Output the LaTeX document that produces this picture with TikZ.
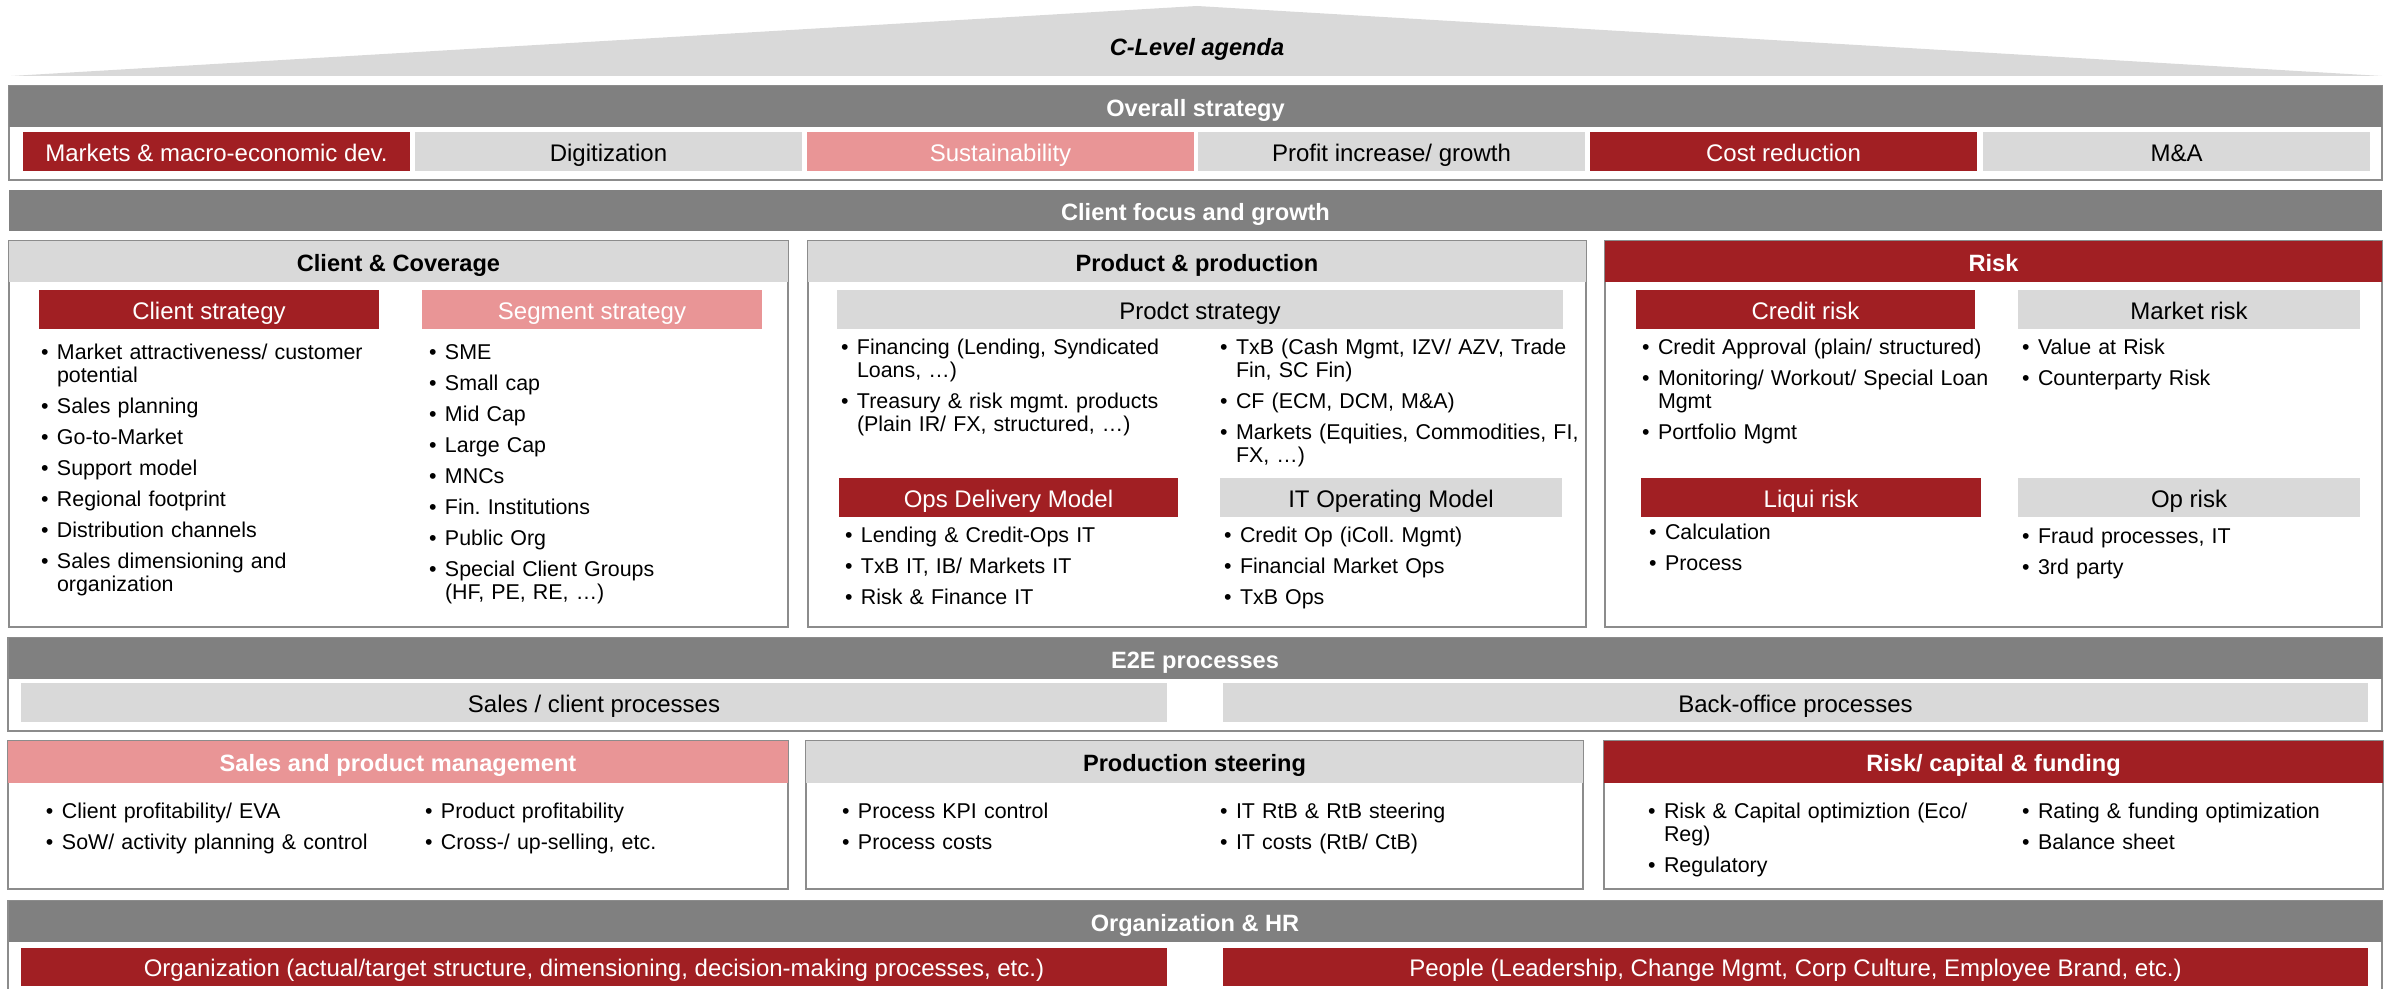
\documentclass[tikz,border=0pt]{standalone}
\usepackage{fontspec}
\setmainfont{Liberation Sans}
\frenchspacing
\definecolor{bankred}{HTML}{A11F23}
\definecolor{bankpink}{HTML}{E99596}
\definecolor{lightgrey}{HTML}{D9D9D9}
\definecolor{bargrey}{HTML}{808080}
\definecolor{framegrey}{HTML}{8C8C8C}
\newcommand{\hdfont}{\fontsize{11.8}{13}\selectfont\bfseries}
\newcommand{\boxfont}{\fontsize{12}{14}\selectfont}
\newcommand{\listfont}{\fontsize{10.7}{11.5}\selectfont}
% one bullet point with hanging indent
\newcommand{\bitem}[1]{\hangindent=8pt\hangafter=1\noindent\strut\makebox[8pt][l]{\textbullet}#1\strut\par}
\begin{document}
\begin{tikzpicture}[x=0.5pt,y=-0.5pt,inner sep=0pt,outer sep=0pt,
panel/.style={draw=framegrey,line width=1pt},
wh/.style 2 args={minimum width=#1,minimum height=#2},
bar/.style={fill=bargrey,text=white,font=\hdfont,wh={1186.5pt}{20.5pt},text height=10pt,text depth=0.3pt},
redbox/.style={fill=bankred,text=white,font=\boxfont,text height=10pt,text depth=0.3pt},
pinkbox/.style={fill=bankpink,text=white,font=\boxfont,text height=10pt,text depth=0.3pt},
greybox/.style={fill=lightgrey,text=black,font=\boxfont,text height=10pt,text depth=0.3pt},
head/.style={font=\hdfont},
list/.style={anchor=north west,text width=185pt,align=left,font=\listfont,
  execute at begin node={\setlength{\parskip}{4pt}}}]
\clip (0,0) rectangle (2397,989);
% C-level roof
\fill[lightgrey] (11,76) -- (1197,6) -- (2382,76) -- cycle;
\draw (1197,49) node[font=\hdfont\itshape] (agenda) {C-Level agenda};
% overall strategy
\draw[panel] (9,86) rectangle (2382,180);
\draw (1195.5,106.5) node[bar] (overall) {Overall strategy};
\draw (216.5,151.5) node[redbox,wh={193.5pt}{19.5pt}] (markets) {Markets \& macro-economic dev.};
\draw (608.5,151.5) node[greybox,wh={193.5pt}{19.5pt}] (digit) {Digitization};
\draw (1000.5,151.5) node[pinkbox,wh={193.5pt}{19.5pt}] (sustain) {Sustainability};
\draw (1391.5,151.5) node[greybox,wh={193.5pt}{19.5pt}] (profit) {Profit increase/ growth};
\draw (1783.5,151.5) node[redbox,wh={193.5pt}{19.5pt}] (cost) {Cost reduction};
\draw (2176.5,151.5) node[greybox,wh={193.5pt}{19.5pt}] (manda) {M\&A};
% client focus and growth
\draw (1195.5,210.5) node[bar] (focus) {Client focus and growth};
\draw[panel] (9,241) rectangle (788,627);
\draw[panel] (808,241) rectangle (1586,627);
\draw[panel] (1605,241) rectangle (2382,627);
\draw (398.5,261.5) node[greybox,head,wh={389.5pt}{20.5pt}] (coverage) {Client \& Coverage};
\draw (1197,261.5) node[greybox,head,wh={389pt}{20.5pt}] (product) {Product \& production};
\draw (1993.5,261.5) node[redbox,head,wh={388.5pt}{20.5pt}] (risk) {Risk};
\draw (209,309.5) node[redbox,wh={170pt}{19.5pt}] (clientstr) {Client strategy};
\draw (592,309.5) node[pinkbox,wh={170pt}{19.5pt}] (segstr) {Segment strategy};
\draw (1200,309.5) node[greybox,wh={363pt}{19.5pt}] (prodstr) {Prodct strategy};
\draw (1805.5,309.5) node[redbox,wh={169.5pt}{19.5pt}] (creditrisk) {Credit risk};
\draw (2189,309.5) node[greybox,wh={171pt}{19.5pt}] (marketrisk) {Market risk};
\draw (1008.5,497.5) node[redbox,wh={169.5pt}{19.5pt}] (opsdel) {Ops Delivery Model};
\draw (1391,497.5) node[greybox,wh={171pt}{19.5pt}] (itop) {IT Operating Model};
\draw (1811,497.5) node[redbox,wh={170pt}{19.5pt}] (liquirisk) {Liqui risk};
\draw (2189,497.5) node[greybox,wh={171pt}{19.5pt}] (oprisk) {Op risk};
\draw (41,343) node[list] (clientlist) {%
\bitem{Market attractiveness/ customer\newline potential}
\bitem{Sales planning}
\bitem{Go-to-Market}
\bitem{Support model}
\bitem{Regional footprint}
\bitem{Distribution channels}
\bitem{Sales dimensioning and\newline organization}};
\draw (429,343) node[list] (seglist) {%
\bitem{SME}
\bitem{Small cap}
\bitem{Mid Cap}
\bitem{Large Cap}
\bitem{MNCs}
\bitem{Fin. Institutions}
\bitem{Public Org}
\bitem{Special Client Groups\newline (HF, PE, RE, \ldots)}};
\draw (841,338) node[list] (prodlistA) {%
\bitem{Financing (Lending, Syndicated\newline Loans, \ldots)}
\bitem{Treasury \& risk mgmt. products\newline (Plain IR/ FX, structured, \ldots)}};
\draw (1220,338) node[list] (prodlistB) {%
\bitem{TxB (Cash Mgmt, IZV/ AZV, Trade\newline Fin, SC Fin)}
\bitem{CF (ECM, DCM, M\&A)}
\bitem{Markets (Equities, Commodities, FI,\newline FX, \ldots)}};
\draw (845,526.5) node[list] (opslist) {%
\bitem{Lending \& Credit-Ops IT}
\bitem{TxB IT, IB/ Markets IT}
\bitem{Risk \& Finance IT}};
\draw (1224,526.5) node[list] (itlist) {%
\bitem{Credit Op (iColl. Mgmt)}
\bitem{Financial Market Ops}
\bitem{TxB Ops}};
\draw (1642,338) node[list] (creditlist) {%
\bitem{Credit Approval (plain/ structured)}
\bitem{Monitoring/ Workout/ Special Loan\newline Mgmt}
\bitem{Portfolio Mgmt}};
\draw (2022,338) node[list] (marketlist) {%
\bitem{Value at Risk}
\bitem{Counterparty Risk}};
\draw (1649,523.5) node[list] (liquilist) {%
\bitem{Calculation}
\bitem{Process}};
\draw (2022,527.5) node[list] (oplist) {%
\bitem{Fraud processes, IT}
\bitem{3rd party}};
% E2E processes
\draw[panel] (8,638) rectangle (2382,731);
\draw (1195,658.5) node[bar] (e2e) {E2E processes};
\draw (594,702.5) node[greybox,wh={573pt}{19.5pt}] (salesproc) {Sales / client processes};
\draw (1795.5,702.5) node[greybox,wh={572.5pt}{19.5pt}] (backoffice) {Back-office processes};
\draw[panel] (8,741) rectangle (788,889);
\draw[panel] (806,741) rectangle (1583,889);
\draw[panel] (1604,741) rectangle (2383,889);
\draw (398,762) node[pinkbox,head,wh={390pt}{21pt}] (salesmgmt) {Sales and product management};
\draw (1194.5,762) node[greybox,head,wh={388.5pt}{21pt}] (prodsteer) {Production steering};
\draw (1993.5,762) node[redbox,head,wh={389.5pt}{21pt}] (riskcap) {Risk/ capital \& funding};
\draw (46,802.5) node[list] (salesA) {%
\bitem{Client profitability/ EVA}
\bitem{SoW/ activity planning \& control}};
\draw (425,802.5) node[list] (salesB) {%
\bitem{Product profitability}
\bitem{Cross-/ up-selling, etc.}};
\draw (842,802.5) node[list] (steerA) {%
\bitem{Process KPI control}
\bitem{Process costs}};
\draw (1220,802.5) node[list] (steerB) {%
\bitem{IT RtB \& RtB steering}
\bitem{IT costs (RtB/ CtB)}};
\draw (1648,802.5) node[list] (capA) {%
\bitem{Risk \& Capital optimiztion (Eco/\newline Reg)}
\bitem{Regulatory}};
\draw (2022,802.5) node[list] (capB) {%
\bitem{Rating \& funding optimization}
\bitem{Balance sheet}};
% organization & HR
\draw[panel] (8,901) rectangle (2382,1010);
\draw (1195,921.5) node[bar] (orghr) {Organization \& HR};
\draw (594,967) node[redbox,wh={573pt}{19pt}] (orgbox) {Organization (actual/target structure, dimensioning, decision-making processes, etc.)};
\draw (1795.5,967) node[redbox,wh={572.5pt}{19pt}] (people) {People (Leadership, Change Mgmt, Corp Culture, Employee Brand, etc.)};
\end{tikzpicture}
\end{document}
